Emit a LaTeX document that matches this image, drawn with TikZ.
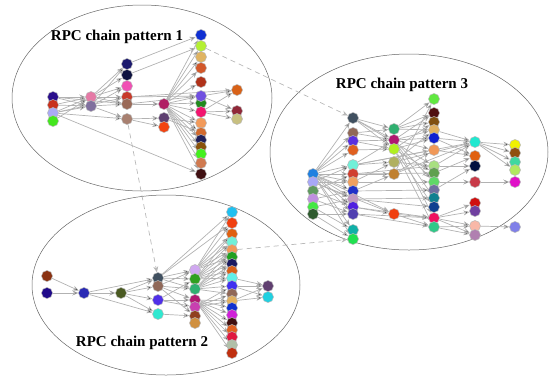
\documentclass[tikz,border=0pt]{standalone}
\usepackage{fontspec}
\setmainfont{Liberation Serif}
\usetikzlibrary{arrows.meta,backgrounds}

\tikzset{
  hx/.code={\definecolor{vcol}{HTML}{#1}\pgfkeysalso{fill=vcol}},
  v/.style={circle, inner sep=0pt, minimum size=11pt, draw=black!28, line width=0.5pt, hx=#1},
  e/.style={draw=black!30, line width=0.7pt, -{Stealth[length=6pt,width=5pt]}},
  link/.style={draw=black!28, line width=0.7pt, dash pattern=on 5pt off 4pt, -{Stealth[length=6pt,width=5pt]}},
  group/.style={draw=black!60, line width=0.5pt},
  title/.style={font=\bfseries\fontsize{15}{18}\selectfont}
}

\begin{document}
\begin{tikzpicture}[x=1pt,y=-1pt]
\useasboundingbox (0,0) rectangle (551,381);

% chain pattern 1
\node[v=2B0F8C] (a1) at (53,97){};
\node[v=C8321E] (a2) at (53,105){};
\node[v=AAAAF5] (a3) at (53,113){};
\node[v=44E61E] (a4) at (53,121){};
\node[v=E57AA6] (b1) at (91,97){};
\node[v=80709E] (b2) at (91,106){};
\node[v=1C1A6E] (c1) at (127,64){};
\node[v=0E1240] (c2) at (127,75){};
\node[v=F050B4] (c3) at (127,86){};
\node[v=C83A2A] (c4) at (127,97){};
\node[v=9A6A58] (c5) at (127,104){};
\node[v=A88070] (c6) at (127,119){};
\node[v=B01E64] (d1) at (164,104){};
\node[v=5E4070] (d2) at (164,118){};
\node[v=F24412] (d3) at (164,127){};
\node[v=1030D2] (e1) at (201,35){};
\node[v=B4F032] (e2) at (201,46){};
\node[v=E0B462] (e3) at (201,57){};
\node[v=D2582A] (e4) at (201,68){};
\node[v=B0321A] (e5) at (201,82){};
\node[v=228A1E] (e7) at (201,103){};
\node[v=7050E0] (e6) at (201,96){};
\node[v=F2146E] (e8) at (201,112){};
\node[v=F29A5A] (e9) at (201,123){};
\node[v=D26A2E] (e10) at (201,133){};
\node[v=20205A] (e11) at (201,140){};
\node[v=8A520A] (e12) at (201,147){};
\node[v=44F01E] (e13) at (201,154){};
\node[v=D07A50] (e14) at (201,163){};
\node[v=401012] (e15) at (201,174){};
\node[v=D86218] (f1) at (237,90){};
\node[v=902838] (f2) at (237,111){};
\node[v=C8C080] (f3) at (237,119){};
\node[title] (t1) at (117,37) {RPC chain pattern 1};

% chain pattern 3
\node[v=2080E0] (p1) at (313,174){};
\node[v=A8A8F8] (p2) at (313,182){};
\node[v=609A60] (p3) at (313,191){};
\node[v=C090E0] (p4) at (313,199){};
\node[v=44E844] (p5) at (313,207){};
\node[v=2E5A2E] (p6) at (313,214){};
\node[v=405060] (q1) at (353,118){};
\node[v=906858] (q2) at (353,133){};
\node[v=5A30E0] (q3) at (353,141){};
\node[v=E06020] (q4) at (353,150){};
\node[v=70F0D8] (q5) at (353,165){};
\node[v=D04030] (q6) at (353,174){};
\node[v=F0A060] (q7) at (353,182){};
\node[v=2030C8] (q8) at (353,191){};
\node[v=C098C0] (q9) at (353,199){};
\node[v=5020E0] (q10) at (353,207){};
\node[v=5040B0] (q11) at (353,214){};
\node[v=10B0A8] (q12) at (353,230){};
\node[v=20E050] (q13) at (353,239){};
\node[v=30B070] (r1) at (394,129){};
\node[v=B01870] (r2) at (394,140){};
\node[v=B0F020] (r3) at (394,149){};
\node[v=B0B060] (r4) at (394,162){};
\node[v=C08030] (r5) at (394,174){};
\node[v=F04010] (r6) at (394,214){};
\node[v=60E840] (s1) at (434,99){};
\node[v=501010] (s2) at (434,113){};
\node[v=805010] (s3) at (434,122){};
\node[v=E0B060] (s4) at (434,130){};
\node[v=1020D0] (s5) at (434,138){};
\node[v=F09858] (s6) at (434,150){};
\node[v=A8E080] (s7) at (434,166){};
\node[v=60A050] (s8) at (434,173){};
\node[v=60D868] (s9) at (434,182){};
\node[v=7070A0] (s10) at (434,190){};
\node[v=108090] (s11) at (434,198){};
\node[v=104090] (s12) at (434,207){};
\node[v=F01060] (s13) at (434,218){};
\node[v=30C888] (s14) at (434,227){};
\node[v=20E8D0] (u1) at (475,142){};
\node[v=E06010] (u2) at (475,156){};
\node[v=001040] (u3) at (475,166){};
\node[v=C83A48] (u4) at (475,182){};
\node[v=D01010] (u5) at (475,203){};
\node[v=7040A0] (u6) at (475,211){};
\node[v=F8B8A8] (u7) at (475,226){};
\node[v=B080B0] (u8) at (475,235){};
\node[v=F0F000] (w1) at (515,145){};
\node[v=905010] (w2) at (515,153){};
\node[v=40D8A0] (w3) at (515,162){};
\node[v=B0E860] (w4) at (515,170){};
\node[v=E010C8] (w5) at (515,182){};
\node[v=8080E8] (w6) at (515,227){};
\node[title] (t3) at (402,85) {RPC chain pattern 3};

% chain pattern 2
\node[v=8A3212] (g1) at (47,276){};
\node[v=200A8A] (g2) at (47,293){};
\node[v=2A2AB4] (h1) at (84,293){};
\node[v=4A5A22] (i1) at (121,293){};
\node[v=405060] (j1) at (158,278){};
\node[v=906858] (j2) at (158,286){};
\node[v=5030E8] (j3) at (158,300){};
\node[v=30E8D0] (j4) at (158,314){};
\node[v=D0A8F0] (k1) at (195,270){};
\node[v=30A020] (k2) at (195,279){};
\node[v=30B070] (k3) at (195,289){};
\node[v=B01870] (k4) at (195,300){};
\node[v=C840B0] (k5) at (195,307){};
\node[v=904020] (k6) at (195,316){};
\node[v=D09040] (k7) at (195,323){};
\node[v=20C0F0] (l1) at (232,212){};
\node[v=F04010] (l2) at (232,223){};
\node[v=E06010] (l3) at (232,234){};
\node[v=70F0D8] (l4) at (232,242){};
\node[v=F09858] (l5) at (232,250){};
\node[v=20A020] (l6) at (232,257){};
\node[v=1A1A60] (l7) at (232,264){};
\node[v=D86018] (l8) at (232,271){};
\node[v=60F0E8] (l9) at (232,278){};
\node[v=4030F0] (l10) at (232,286){};
\node[v=906858] (l11) at (232,294){};
\node[v=E0B060] (l12) at (232,301){};
\node[v=1030D0] (l13) at (232,308){};
\node[v=D020D8] (l14) at (232,315){};
\node[v=401010] (l15) at (232,323){};
\node[v=E06020] (l16) at (232,330){};
\node[v=E01840] (l17) at (232,337){};
\node[v=B0C0A8] (l18) at (232,345){};
\node[v=C03010] (l19) at (232,353){};
\node[v=604070] (m1) at (268,286){};
\node[v=20D0E0] (m2) at (268,297){};
\node[title] (t2) at (142,343) {RPC chain pattern 2};

\begin{pgfonlayer}{background}
% outlines of the three groups
\draw[group] (142,98) ellipse [x radius=130, y radius=93];
\draw[group] (409,152) ellipse [x radius=139, y radius=98];
\draw[group] (166,285) ellipse [x radius=134, y radius=90];

% calls inside pattern 1
\draw[e] (a1) edge (b1) edge (b2) edge (c5);
\draw[e] (a2) edge (b1) edge (b2);
\draw[e] (a3) edge (b1) edge (b2) edge (c4) edge (c6) edge (e15);
\draw[e] (a4) edge (b1);
\draw[e] (b1) edge (c1) edge (c2) edge (c3) edge (c4) edge (c5);
\draw[e] (b2) edge (c1) edge (c3) edge (c5) edge (c6);
\draw[e] (c1) edge (e1);
\draw[e] (c2) edge (e2);
\draw[e] (c4) edge (f1) edge (e6);
\draw[e] (c5) edge (d1) edge (e6);
\draw[e] (c6) edge (d2) edge (d3);
\draw[e] (d1) edge (e1) edge (e2) edge (e3) edge (e4) edge (e5) edge (e6) edge (e7) edge (e8)
  edge (e9) edge (e10) edge (e11) edge (e12) edge (e13) edge (e14) edge (e15);
\draw[e] (d2) edge (e9) edge (e10);
\draw[e] (e6) edge (f1) edge (f2);
\draw[e] (e8) edge (f1) edge (f2) edge (f3);

% calls inside pattern 3
\draw[e] (p1) edge (q1) edge (q2) edge (q3) edge (q4) edge (q5) edge (q6) edge (q7) edge (q8)
  edge (q9) edge (q10) edge (q11) edge (q12) edge (q13) edge (r6);
\draw[e] (p2) edge (q5) edge (q7) edge (q9) edge (r6);
\draw[e] (p3) edge (q6) edge (q10);
\draw[e] (p4) edge (q8) edge (q11);
\draw[e] (p5) edge (q9) edge (q12);
\draw[e] (p6) edge (q11) edge (q13);
\draw[e] (q1) edge (r1) edge (r2) edge (r3) edge (s7);
\draw[e] (q2) edge (r1) edge (r2);
\draw[e] (q3) edge (r2) edge (r3);
\draw[e] (q4) edge (r3);
\draw[e] (q5) edge (r2) edge (r4) edge (s6) edge (u1);
\draw[e] (q6) edge (r5) edge (s7) edge (s8);
\draw[e] (q7) edge (r4) edge (s9);
\draw[e] (q8) edge (r5) edge (s10);
\draw[e] (q9) edge (s11) edge (s12);
\draw[e] (q10) edge (r6) edge (s13);
\draw[e] (q11) edge (s13) edge (s14);
\draw[e] (r1) edge (s1) edge (s2) edge (s3) edge (s4);
\draw[e] (r2) edge (s2) edge (s4) edge (s5) edge (s6) edge (s9) edge (s11) edge (s13);
\draw[e] (r3) edge (s3) edge (s5) edge (s8) edge (s12) edge (s14);
\draw[e] (r4) edge (s4) edge (s7) edge (u1);
\draw[e] (r5) edge (s1) edge (s6) edge (u1);
\draw[e] (r6) edge (s13) edge (s14);
\draw[e] (s4) edge (u1);
\draw[e] (s5) edge (u1) edge (u2);
\draw[e] (s6) edge (u2);
\draw[e] (s7) edge (u1) edge (u3);
\draw[e] (s8) edge (u2);
\draw[e] (s9) edge (u4);
\draw[e] (s10) edge (u3);
\draw[e] (s13) edge (u5) edge (u6) edge (u7) edge (u8);
\draw[e] (s14) edge (u7) edge (u8);
\draw[e] (u1) edge (w1) edge (w2) edge (w3) edge (w4);
\draw[e] (u4) edge (w5);
\draw[e] (u7) edge (w6);

% calls inside pattern 2
\draw[e] (g1) edge (h1);
\draw[e] (g2) edge (h1);
\draw[e] (h1) edge (i1) edge (j1) edge (j4);
\draw[e] (i1) edge (j1) edge (j2) edge (j3) edge (j4);
\draw[e] (j1) edge (l1) edge (l2) edge (k1) edge (k2) edge (k3);
\draw[e] (j2) edge (k1) edge (k3) edge (k4) edge (k6);
\draw[e] (j3) edge (k2) edge (k4) edge (k5);
\draw[e] (j4) edge (k6);
\draw[e] (k1) edge (l1) edge (l2) edge (l3) edge (l4) edge (l5) edge (l6);
\draw[e] (k2) edge (l3) edge (l4) edge (l5) edge (l6) edge (l7) edge (l8) edge (l9);
\draw[e] (k3) edge (l5) edge (l6) edge (l7) edge (l8) edge (l9) edge (l10) edge (l11);
\draw[e] (k4) edge (l12) edge (l13) edge (l14) edge (l15) edge (l16) edge (l17) edge (l18) edge (l19);
\draw[e] (k5) edge (l10) edge (l11) edge (l12);
\draw[e] (l9) edge (m1);
\draw[e] (l10) edge (m1) edge (m2);
\draw[e] (l12) edge (m1) edge (m2);

% links between the patterns
\draw[link] (e2) -- (q1);
\draw[link] (c6) -- (j1);
\draw[link] (l5) -- (q13);
\end{pgfonlayer}
\end{tikzpicture}
\end{document}
